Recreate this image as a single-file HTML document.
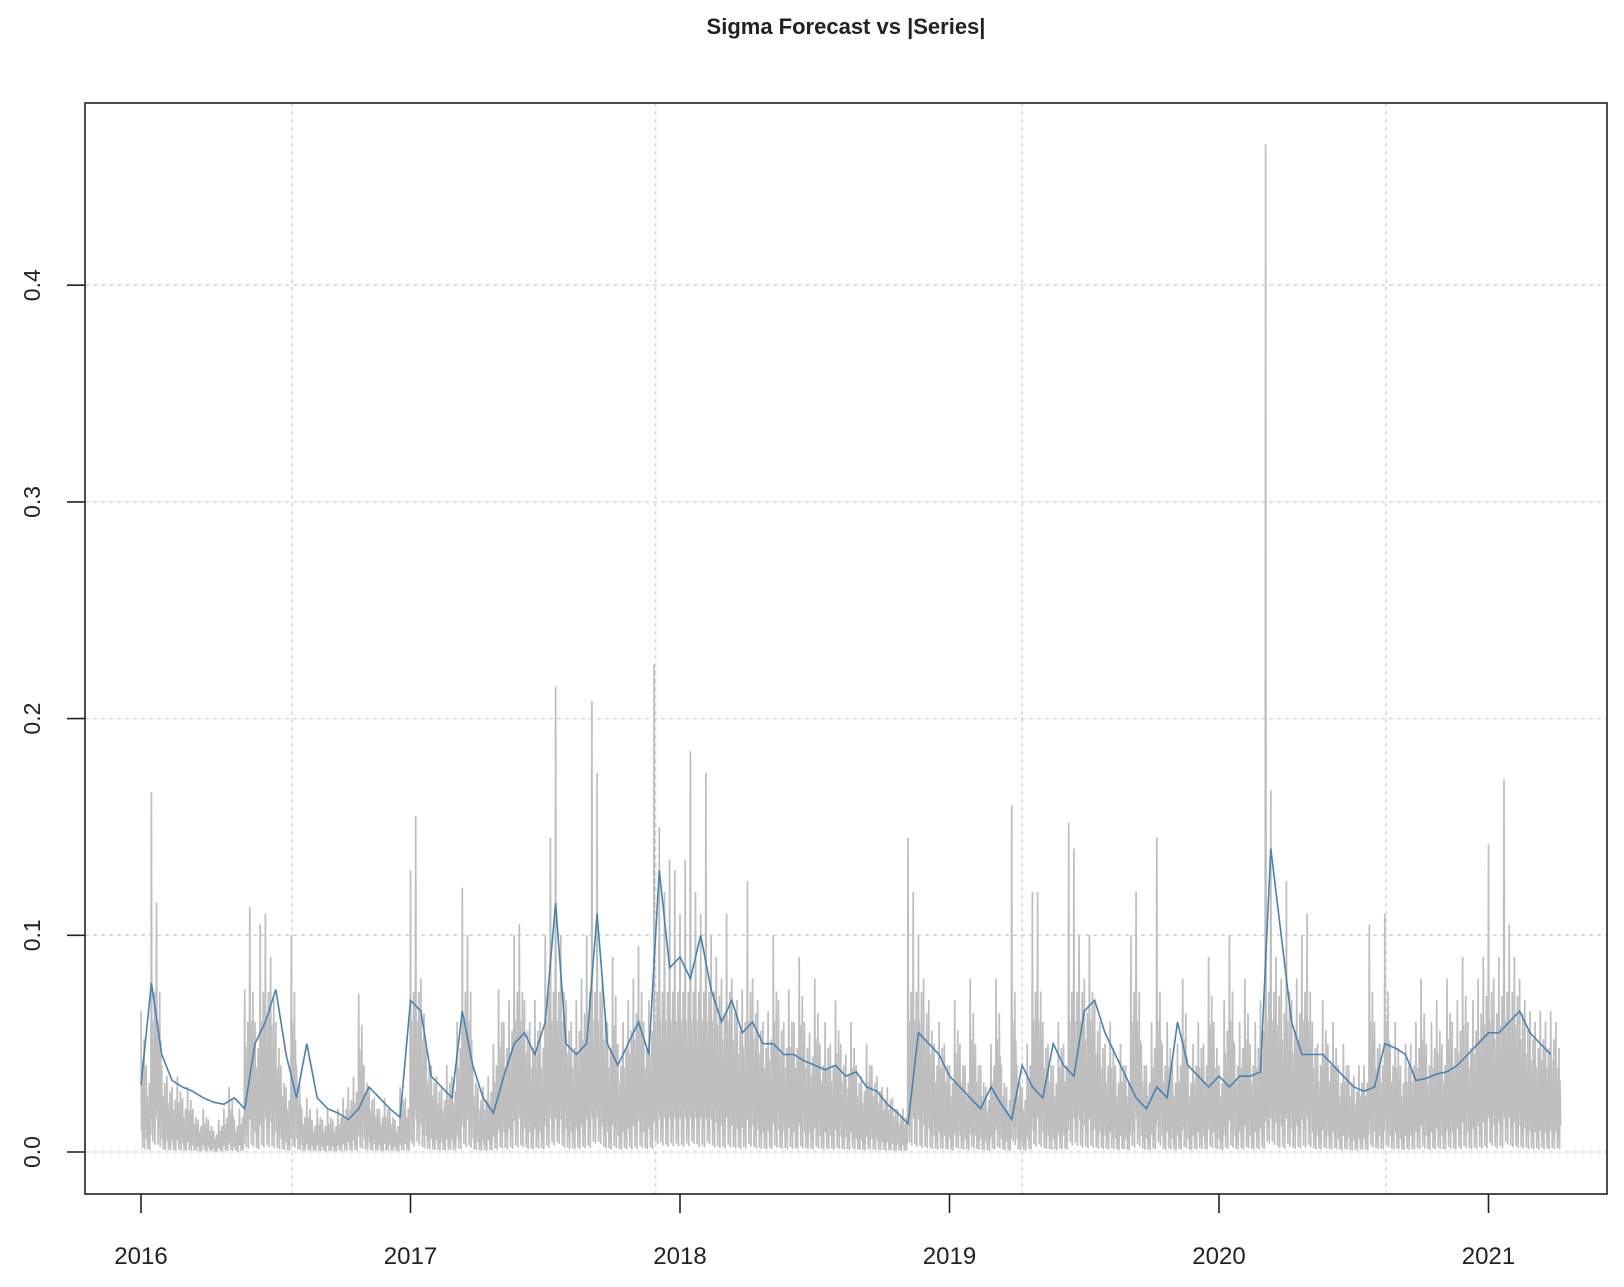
<!DOCTYPE html>
<html><head><meta charset="utf-8"><style>
html,body{margin:0;padding:0;background:#fff;}
svg{display:block;font-family:"Liberation Sans",Arial,sans-serif;}
</style></head><body>
<svg id="chart" width="1624" height="1287" viewBox="0 0 1624 1287" xmlns="http://www.w3.org/2000/svg">
<rect width="1624" height="1287" fill="#fff"/>
<text x="846" y="34" text-anchor="middle" font-size="22" font-weight="bold" fill="#222">Sigma Forecast vs |Series|</text>
<g id="grid"></g>
<g id="series"></g>
<rect x="85" y="103" width="1522" height="1091" fill="none" stroke="#222" stroke-width="1.6"/>
<g id="axes"></g>
</svg>
<script>
const yTicks = [0, 0.1, 0.2, 0.3, 0.4];
const yTickLabels = ["0.0", "0.1", "0.2", "0.3", "0.4"];
const xTicks = [2016, 2017, 2018, 2019, 2020, 2021];
const xTickLabels = ["2016", "2017", "2018", "2019", "2020", "2021"];
const xGrid = [2016.56, 2017.91, 2019.27, 2020.62];
const startYear = 2016;
const absSeriesWeekly = [
0.065,0.04,0.166,0.115,0.04,0.035,0.03,0.035,0.025,0.03,0.02,0.015,0.02,0.015,0.01,0.015,0.02,0.03,0.015,0.02,0.075,0.113,0.06,0.105,0.11,0.09,0.06,0.04,0.03,0.1,0.04,0.02,0.025,0.015,0.02,0.015,0.02,0.015,0.02,0.025,0.03,0.035,0.073,0.04,0.03,0.025,0.02,0.025,0.02,0.015,0.03,0.025,
0.13,0.155,0.08,0.05,0.04,0.035,0.03,0.04,0.035,0.06,0.122,0.1,0.04,0.03,0.03,0.035,0.05,0.075,0.06,0.07,0.1,0.105,0.07,0.06,0.07,0.06,0.1,0.145,0.215,0.1,0.07,0.06,0.07,0.08,0.1,0.208,0.175,0.08,0.06,0.09,0.05,0.06,0.07,0.08,0.095,0.06,0.07,0.225,0.15,0.12,0.135,0.13,
0.11,0.135,0.185,0.12,0.11,0.175,0.1,0.09,0.08,0.11,0.08,0.07,0.075,0.125,0.08,0.07,0.06,0.065,0.1,0.07,0.06,0.075,0.06,0.09,0.06,0.055,0.08,0.05,0.06,0.05,0.07,0.05,0.045,0.06,0.04,0.035,0.05,0.04,0.035,0.03,0.03,0.025,0.02,0.02,0.145,0.12,0.1,0.08,0.07,0.05,0.06,0.05,
0.04,0.07,0.05,0.04,0.08,0.05,0.04,0.03,0.05,0.08,0.04,0.03,0.16,0.04,0.03,0.05,0.12,0.12,0.06,0.05,0.04,0.06,0.05,0.152,0.14,0.1,0.08,0.1,0.07,0.06,0.05,0.06,0.04,0.05,0.04,0.1,0.12,0.05,0.04,0.06,0.145,0.05,0.06,0.04,0.05,0.08,0.04,0.05,0.06,0.05,0.09,0.06,
0.04,0.07,0.1,0.05,0.06,0.08,0.05,0.06,0.07,0.465,0.167,0.09,0.08,0.125,0.07,0.08,0.1,0.11,0.06,0.05,0.07,0.05,0.06,0.04,0.05,0.04,0.035,0.04,0.04,0.105,0.06,0.05,0.11,0.05,0.06,0.04,0.05,0.05,0.06,0.08,0.05,0.06,0.07,0.05,0.08,0.06,0.07,0.09,0.06,0.07,0.08,0.09,
0.142,0.08,0.09,0.172,0.105,0.09,0.08,0.07,0.065,0.06,0.065,0.06,0.065,0.06
];
const sigmaBiweekly = [
0.031,0.078,0.045,0.033,0.03,0.028,0.025,0.023,0.022,0.025,0.02,0.05,0.06,0.075,0.045,0.025,0.05,0.025,0.02,0.018,0.015,0.02,0.03,0.025,0.02,0.016,
0.07,0.065,0.035,0.03,0.025,0.065,0.04,0.025,0.018,0.035,0.05,0.055,0.045,0.06,0.115,0.05,0.045,0.05,0.11,0.05,0.04,0.05,0.06,0.045,0.13,0.085,
0.09,0.08,0.1,0.075,0.06,0.07,0.055,0.06,0.05,0.05,0.045,0.045,0.042,0.04,0.038,0.04,0.035,0.037,0.03,0.028,0.022,0.018,0.013,0.055,0.05,0.045,
0.035,0.03,0.025,0.02,0.03,0.022,0.015,0.04,0.03,0.025,0.05,0.04,0.035,0.065,0.07,0.055,0.045,0.035,0.025,0.02,0.03,0.025,0.06,0.04,0.035,0.03,
0.035,0.03,0.035,0.035,0.037,0.14,0.1,0.06,0.045,0.045,0.045,0.04,0.035,0.03,0.028,0.03,0.05,0.048,0.045,0.033,0.034,0.036,0.037,0.04,0.045,0.05,
0.055,0.055,0.06,0.065,0.055,0.05,0.045
];

const NS = "http://www.w3.org/2000/svg";
const X0 = 141, PXY = 269.5, Y0 = 1152, PXV = 2167;
function xs(t){ return X0 + (t - startYear) * PXY; }
function ys(v){ return Y0 - v * PXV; }
function mk(tag, attrs, parent){
  const e = document.createElementNS(NS, tag);
  for (const k in attrs) e.setAttribute(k, attrs[k]);
  parent.appendChild(e); return e;
}
const grid = document.getElementById('grid');
const series = document.getElementById('series');
const axes = document.getElementById('axes');

yTicks.forEach((v,i)=>{
  const l = mk('line',{x1:85,x2:1607,y1:ys(v),y2:ys(v),stroke:'#d0d0d0','stroke-width':1.3,'stroke-dasharray':'4,4'},grid);
  
  
  const t = mk('line',{x1:67,x2:85,y1:ys(v),y2:ys(v),stroke:'#222','stroke-width':1.6},axes);
  
  
  const y = ys(v);
  const tx = mk('text',{x:40,y:y,'font-size':23,'text-anchor':'middle',fill:'#222',transform:'rotate(-90 40 '+y+')'},axes);
  tx.textContent = yTickLabels[i];
  
  
});
xGrid.forEach(t=>{
  const l = mk('line',{x1:xs(t),x2:xs(t),y1:103,y2:1194,stroke:'#d0d0d0','stroke-width':1.3,'stroke-dasharray':'4,4'},grid);
  
  
});
xTicks.forEach((t,i)=>{
  const l = mk('line',{x1:xs(t),x2:xs(t),y1:1194,y2:1213,stroke:'#222','stroke-width':1.6},axes);
  
  
  const tx = mk('text',{x:xs(t),y:1264,'font-size':24,'text-anchor':'middle',fill:'#222'},axes);
  tx.textContent = xTickLabels[i];
  
  
});

// abs series: daily-like oscillation within each week, scaled by weekly peak
const zig = [1, 0.15, 0.65, 0.03, 0.5, 0.1, 0.8, 0.02, 0.55, 0.2];
let pts = [];
absSeriesWeekly.forEach((v,i)=>{
  zig.forEach((m,j)=>{
    const t = startYear + (i + j/zig.length)/52;
    const val = j===0 ? v : Math.min(m*v, m*0.09 + 0.002);
    pts.push(xs(t).toFixed(1)+','+ys(val).toFixed(1));
  });
});
const gl = mk('polyline',{points:pts.join(' '),fill:'none',stroke:'#bebebe','stroke-width':1.7},series);



const bpts = sigmaBiweekly.map((v,i)=> xs(startYear + 2*i/52).toFixed(1)+','+ys(v).toFixed(1));
const bl = mk('polyline',{points:bpts.join(' '),fill:'none',stroke:'#4682b4','stroke-width':1.6},series);


</script>
</body></html>
